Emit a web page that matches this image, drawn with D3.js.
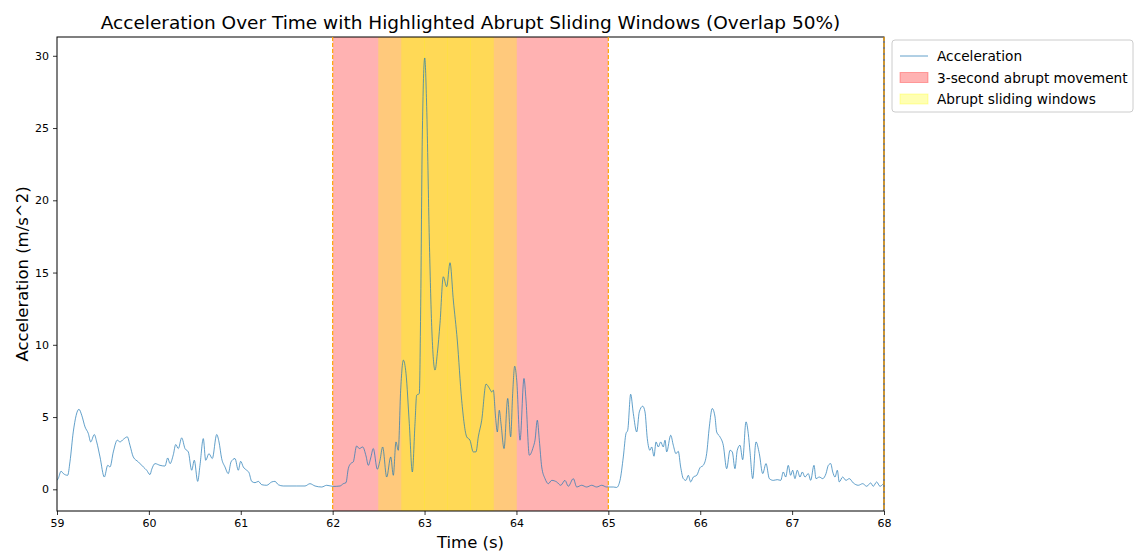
<!DOCTYPE html>
<html>
<head>
<meta charset="utf-8">
<script src="https://cdn.jsdelivr.net/npm/d3@7"></script>
<style>
  body { margin: 0; background: #fff; }
  svg text { font-family: "DejaVu Sans", sans-serif; fill: #000; }
</style>
</head>
<body>
<svg id="chart" width="1136" height="552"></svg>
<script>
// acceleration trace: [time (s), m/s^2]
const accel = [
  [59.000,0.62],[59.014,0.76],[59.044,1.25],[59.069,1.09],[59.116,0.97],[59.141,1.9],[59.177,3.97],
  [59.239,5.54],[59.269,5.13],[59.305,4.32],[59.341,3.86],[59.367,3.28],[59.406,3.79],[59.432,3.28],
  [59.468,2.24],[59.515,0.85],[59.552,1.66],[59.577,1.55],[59.613,2.59],[59.656,3.4],[59.686,3.28],
  [59.722,3.46],[59.765,3.63],[59.794,3.05],[59.830,2.24],[59.885,1.9],[59.939,1.55],[59.976,1.32],
  [60.012,1.02],[60.031,1.39],[60.067,1.78],[60.121,1.66],[60.175,1.61],[60.205,2.17],[60.230,1.78],
  [60.266,2.4],[60.292,3.1],[60.320,2.82],[60.357,3.56],[60.393,2.82],[60.429,2.59],[60.466,1.32],
  [60.494,2.01],[60.531,0.55],[60.556,1.66],[60.592,3.51],[60.618,2.01],[60.654,2.47],[60.690,2.13],
  [60.738,3.79],[60.763,3.28],[60.792,2.13],[60.828,1.55],[60.864,1.09],[60.894,1.9],[60.937,2.13],
  [60.973,1.32],[60.999,1.94],[61.027,1.55],[61.064,1.32],[61.089,1.16],[61.119,0.55],[61.155,0.46],
  [61.191,0.55],[61.228,0.32],[61.282,0.28],[61.337,0.51],[61.372,0.55],[61.408,0.32],[61.463,0.23],
  [61.536,0.23],[61.609,0.23],[61.699,0.23],[61.753,0.39],[61.808,0.23],[61.881,0.16],[61.935,0.28],
  [62.007,0.2],[62.080,0.23],[62.116,0.39],[62.145,0.46],[62.170,1.43],[62.196,1.78],[62.224,1.9],
  [62.261,3.0],[62.290,2.82],[62.327,2.93],[62.363,2.31],[62.388,1.66],[62.414,2.17],[62.442,2.82],
  [62.486,1.39],[62.515,2.01],[62.544,2.93],[62.588,0.85],[62.632,2.24],[62.660,0.97],[62.689,3.28],
  [62.714,2.7],[62.740,6.86],[62.769,8.94],[62.798,8.02],[62.834,4.55],[62.867,1.2],[62.896,4.55],
  [62.914,6.51],[62.943,6.63],[62.958,12.63],[62.975,24.19],[63.002,29.85],[63.023,26.5],[63.052,17.26],
  [63.078,11.25],[63.114,8.25],[63.139,9.4],[63.168,11.48],[63.204,14.71],[63.241,14.02],[63.277,15.68],
  [63.313,13.1],[63.356,10.33],[63.404,6.17],[63.459,3.63],[63.494,3.4],[63.530,2.59],[63.560,2.59],
  [63.585,3.63],[63.622,4.78],[63.669,7.28],[63.705,7.0],[63.731,6.74],[63.748,6.86],[63.774,4.9],
  [63.792,3.97],[63.813,5.47],[63.832,4.55],[63.865,2.82],[63.905,6.29],[63.937,3.63],[63.959,6.63],
  [63.981,8.52],[64.003,7.55],[64.039,3.4],[64.082,7.67],[64.104,6.17],[64.140,2.36],[64.183,2.93],
  [64.202,3.4],[64.227,4.78],[64.249,3.4],[64.275,1.55],[64.311,0.74],[64.347,0.39],[64.384,0.62],
  [64.438,0.51],[64.482,0.28],[64.528,0.62],[64.564,0.21],[64.619,0.74],[64.656,0.16],[64.710,0.28],
  [64.764,0.16],[64.819,0.28],[64.873,0.16],[64.928,0.28],[64.982,0.16],[65.054,0.16],[65.091,0.13],
  [65.127,0.62],[65.163,2.24],[65.192,3.86],[65.211,4.09],[65.243,6.58],[65.272,5.24],[65.309,3.97],
  [65.337,5.36],[65.374,5.75],[65.399,5.36],[65.424,3.51],[65.453,2.7],[65.472,2.93],[65.497,2.29],
  [65.519,3.28],[65.544,2.93],[65.570,3.28],[65.598,2.93],[65.617,3.4],[65.635,2.59],[65.679,3.74],
  [65.707,3.05],[65.736,2.47],[65.761,2.63],[65.787,1.55],[65.816,0.74],[65.845,0.62],[65.870,0.97],
  [65.896,0.51],[65.925,0.85],[65.962,0.97],[65.998,1.5],[66.033,1.66],[66.070,2.47],[66.099,4.32],
  [66.131,5.59],[66.161,5.01],[66.179,3.97],[66.215,3.63],[66.251,3.05],[66.288,1.43],[66.324,2.7],
  [66.349,2.59],[66.378,1.43],[66.403,2.7],[66.433,3.05],[66.462,2.05],[66.498,4.67],[66.523,3.86],
  [66.542,2.59],[66.571,0.74],[66.607,3.28],[66.643,2.47],[66.680,1.09],[66.716,1.78],[66.752,0.74],
  [66.795,0.62],[66.839,0.67],[66.876,0.62],[66.904,1.2],[66.930,0.85],[66.958,1.66],[66.984,0.97],
  [67.006,1.32],[67.031,0.74],[67.056,1.32],[67.086,0.85],[67.111,1.2],[67.140,0.85],[67.176,1.09],
  [67.202,0.62],[67.238,1.66],[67.260,0.74],[67.296,0.85],[67.333,0.74],[67.369,1.09],[67.394,1.66],
  [67.420,1.78],[67.442,1.2],[67.467,0.85],[67.492,1.32],[67.513,0.51],[67.550,0.85],[67.586,0.62],
  [67.622,0.74],[67.666,0.44],[67.720,0.28],[67.768,0.39],[67.812,0.21],[67.855,0.44],[67.883,0.21],
  [67.920,0.51],[67.956,0.21],[67.992,0.39]
];

const abruptSpans = [[62, 65]];
const windowStarts = [62.5, 62.75, 63.0, 63.25, 63.5];
const windowLength = 0.5;
const boundaryLines = [62, 65, 68];

const xTicks = [59, 60, 61, 62, 63, 64, 65, 66, 67, 68];
const yTicks = [0, 5, 10, 15, 20, 25, 30];

const svg = d3.select("#chart");
const plotL = 57, plotR = 884, plotT = 37, plotB = 511;

const x = d3.scaleLinear().domain([59, 68]).range([plotL, plotR]);
const y = d3.scaleLinear().domain([-1.5, 31.3]).range([plotB, plotT]);

svg.append("defs").append("clipPath").attr("id", "plotclip")
  .append("rect").attr("x", plotL).attr("y", plotT)
  .attr("width", plotR - plotL).attr("height", plotB - plotT);

const plot = svg.append("g").attr("clip-path", "url(#plotclip)");

// red span for the abrupt movement
plot.selectAll("rect.abrupt").data(abruptSpans).enter()
  .append("rect").attr("class", "abrupt")
  .attr("x", d => x(d[0])).attr("width", d => x(d[1]) - x(d[0]))
  .attr("y", plotT - 2).attr("height", plotB - plotT + 4)
  .attr("fill", "red").attr("fill-opacity", 0.3);

// overlapping sliding windows
plot.selectAll("rect.win").data(windowStarts).enter()
  .append("rect").attr("class", "win")
  .attr("x", d => x(d)).attr("width", d => x(d + windowLength) - x(d))
  .attr("y", plotT - 2).attr("height", plotB - plotT + 4)
  .attr("fill", "yellow").attr("fill-opacity", 0.3)
  .attr("stroke", "yellow").attr("stroke-opacity", 0.15).attr("stroke-width", 0.8);

const line = d3.line().x(d => x(d[0])).y(d => y(d[1])).curve(d3.curveMonotoneX);
plot.append("path").datum(accel)
  .attr("d", line)
  .attr("fill", "none")
  .attr("stroke", "#1f77b4")
  .attr("stroke-opacity", 0.7)
  .attr("stroke-width", 1);

// axes
const xAxis = d3.axisBottom(x).tickValues(xTicks).tickFormat(d3.format("d")).tickSize(4).tickPadding(4);
const yAxis = d3.axisLeft(y).tickValues(yTicks).tickFormat(d3.format("d")).tickSize(4).tickPadding(4);

const gx = svg.append("g").attr("transform", `translate(0,${plotB})`).call(xAxis);
const gy = svg.append("g").attr("transform", `translate(${plotL},0)`).call(yAxis);
[gx, gy].forEach(g => {
  g.select(".domain").remove();
  g.selectAll("text").style("font-size", "11px").style("font-family", "DejaVu Sans");
  g.selectAll("line").attr("stroke", "#000").attr("stroke-width", 0.8);
});

svg.append("rect")
  .attr("x", plotL).attr("y", plotT)
  .attr("width", plotR - plotL).attr("height", plotB - plotT)
  .attr("fill", "none").attr("stroke", "#000").attr("stroke-width", 1);

// dashed boundaries
svg.selectAll("line.bound").data(boundaryLines).enter()
  .append("line").attr("class", "bound")
  .attr("x1", d => x(d)).attr("x2", d => x(d))
  .attr("y1", plotT).attr("y2", plotB)
  .attr("stroke", "orange").attr("stroke-width", 1.2)
  .attr("stroke-dasharray", "4,2");

// titles
svg.append("text")
  .attr("x", (plotL + plotR) / 2).attr("y", 29)
  .attr("text-anchor", "middle").style("font-size", "18.5px")
  .text("Acceleration Over Time with Highlighted Abrupt Sliding Windows (Overlap 50%)");

svg.append("text")
  .attr("x", (plotL + plotR) / 2).attr("y", 548)
  .attr("text-anchor", "middle").style("font-size", "16.5px")
  .text("Time (s)");

svg.append("text")
  .attr("transform", `translate(28,${(plotT + plotB) / 2}) rotate(-90)`)
  .attr("text-anchor", "middle").style("font-size", "16.5px")
  .text("Acceleration (m/s^2)");

// legend
const legendItems = [
  { label: "Acceleration", kind: "line" },
  { label: "3-second abrupt movement", kind: "red" },
  { label: "Abrupt sliding windows", kind: "yellow" }
];
const lg = svg.append("g").attr("transform", "translate(892,40)");
lg.append("rect")
  .attr("width", 241).attr("height", 72).attr("rx", 3)
  .attr("fill", "#fff").attr("fill-opacity", 0.8)
  .attr("stroke", "#ccc").attr("stroke-width", 1);

const rows = lg.selectAll("g.row").data(legendItems).enter()
  .append("g").attr("class", "row")
  .attr("transform", (d, i) => `translate(0,${16 + i * 21.5})`);

rows.filter(d => d.kind === "line").append("line")
  .attr("x1", 8).attr("x2", 36).attr("y1", 0).attr("y2", 0)
  .attr("stroke", "#1f77b4").attr("stroke-opacity", 0.7).attr("stroke-width", 1);
rows.filter(d => d.kind !== "line").append("rect")
  .attr("x", 8).attr("y", -5).attr("width", 28).attr("height", 10)
  .attr("fill", d => d.kind === "red" ? "red" : "yellow").attr("fill-opacity", 0.3)
  .attr("stroke", d => d.kind === "red" ? "red" : "yellow").attr("stroke-opacity", 0.3);

rows.append("text")
  .attr("x", 45).attr("y", 5)
  .style("font-size", "13.7px")
  .text(d => d.label);
</script>
</body>
</html>
